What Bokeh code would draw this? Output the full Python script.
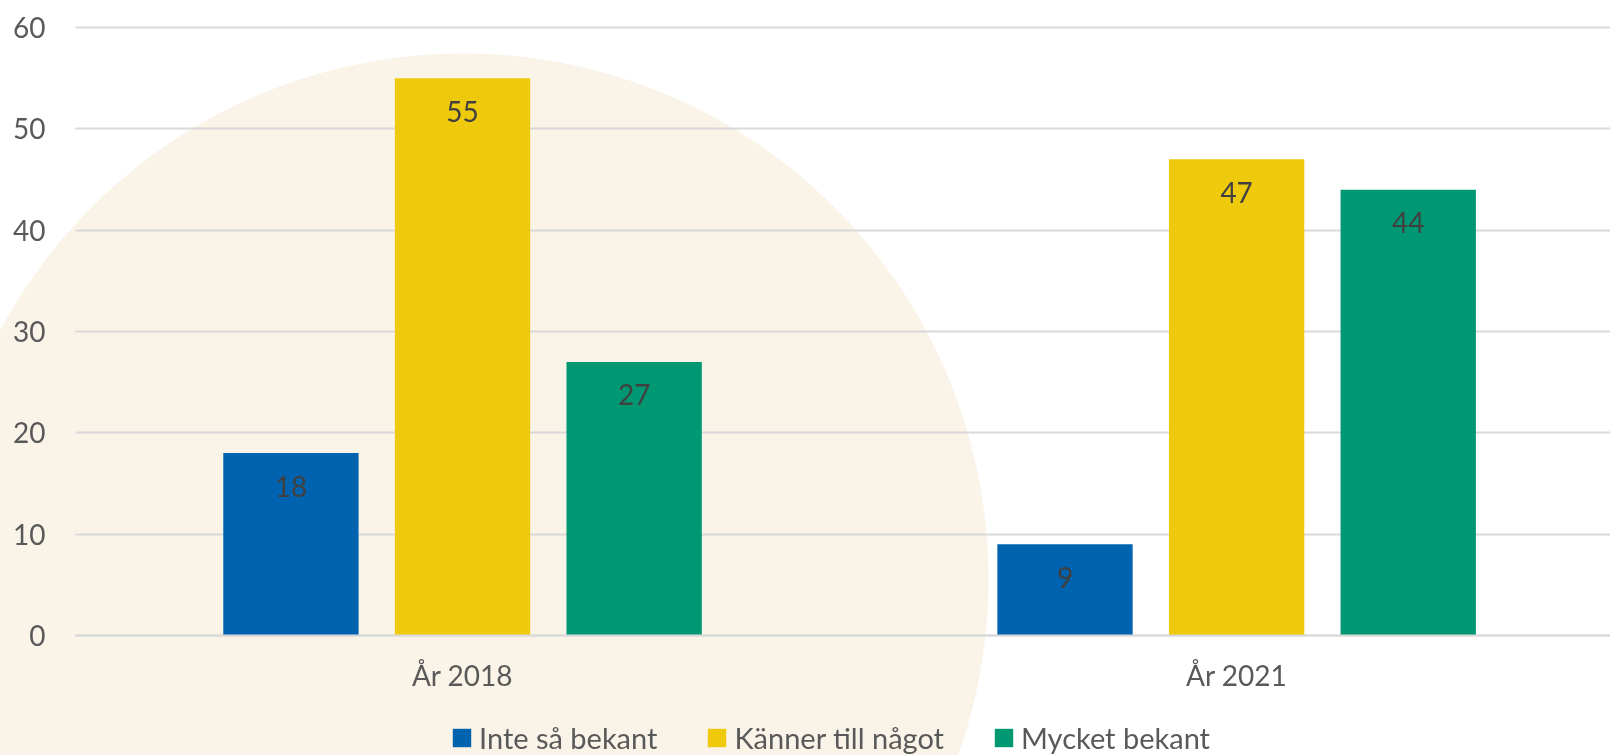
from bokeh.plotting import figure
from bokeh.models import Range1d, FixedTicker, Legend, LegendItem
from bokeh.core.properties import value
from bokeh.embed import file_html
from bokeh.resources import INLINE

# ---- data ----
categories = ["År 2018", "År 2021"]
series_names = ["Inte så bekant", "Känner till något", "Mycket bekant"]
inte_sa_bekant = [18, 9]
kanner_till_nagot = [55, 47]
mycket_bekant = [27, 44]
y_ticks = [0, 10, 20, 30, 40, 50, 60]

series_values = [inte_sa_bekant, kanner_till_nagot, mycket_bekant]
colors = ["#0063AF", "#EFC90B", "#009873"]

FONT = "Lato"

# frame covers the whole canvas; axes are pinned at data 0
p = figure(width=1610, height=755, output_backend="svg", toolbar_location=None,
           x_range=Range1d(-0.0969, 1.983), y_range=Range1d(-11.842, 62.664),
           min_border_left=0, min_border_right=0, min_border_top=0, min_border_bottom=0,
           border_fill_color=None, background_fill_color=None, outline_line_color=None)
p.styles = {
    "position": "fixed",
    "left": "0px",
    "top": "0px",
    "background": "radial-gradient(circle 526px at 463px 579px, #F9F3E8 99.8%, #FFFFFF 100%)",
}

offsets = [-0.2217, 0.0, 0.2217]
bar_w = 0.1748
base = [i + 0.5 for i in range(len(categories))]

# grid
p.ygrid.ticker = FixedTicker(ticks=y_ticks)
p.ygrid.grid_line_color = "#D9D9D9"
p.ygrid.grid_line_width = 2
p.ygrid.cross_bounds = (0, 1.983)
p.xgrid.grid_line_color = None

items = []
for name, vals, col, off in zip(series_names, series_values, colors, offsets):
    xs = [b + off for b in base]
    r = p.vbar(x=xs, top=vals, width=bar_w, bottom=0, fill_color=col, line_color=None)
    items.append(LegendItem(label=name, renderers=[r]))
    p.text(x=xs, y=vals, text=[str(v) for v in vals], text_align="center",
           text_baseline="middle", y_offset=33, text_font=value(FONT),
           text_font_size="28px", text_color="#404040")

legend = Legend(items=items, orientation="horizontal", location=(450, 0),
                glyph_width=23, glyph_height=23, label_standoff=6, spacing=48,
                padding=0, margin=0, border_line_color=None, background_fill_alpha=0,
                label_text_font=FONT, label_text_font_size="29px",
                label_text_color="#595959")
p.add_layout(legend)

# y axis
yax = p.yaxis[0]
yax.fixed_location = 0
yax.bounds = (0, 60)
yax.ticker = FixedTicker(ticks=y_ticks)
yax.axis_line_color = None
yax.major_tick_line_color = None
yax.minor_tick_line_color = None
yax.major_tick_out = 0
yax.major_label_standoff = 30
yax.major_label_text_font = FONT
yax.major_label_text_font_size = "28px"
yax.major_label_text_color = "#595959"

# x axis
xax = p.xaxis[0]
xax.fixed_location = 0
xax.bounds = (0, 1.983)
xax.ticker = FixedTicker(ticks=base)
xax.major_label_overrides = {b: c for b, c in zip(base, categories)}
xax.axis_line_color = "#D9D9D9"
xax.axis_line_width = 2
xax.major_tick_line_color = None
xax.minor_tick_line_color = None
xax.major_tick_out = 0
xax.major_label_standoff = 22
xax.major_label_text_font = FONT
xax.major_label_text_font_size = "28px"
xax.major_label_text_color = "#595959"

open("out.html", "w").write(file_html(p, INLINE))
